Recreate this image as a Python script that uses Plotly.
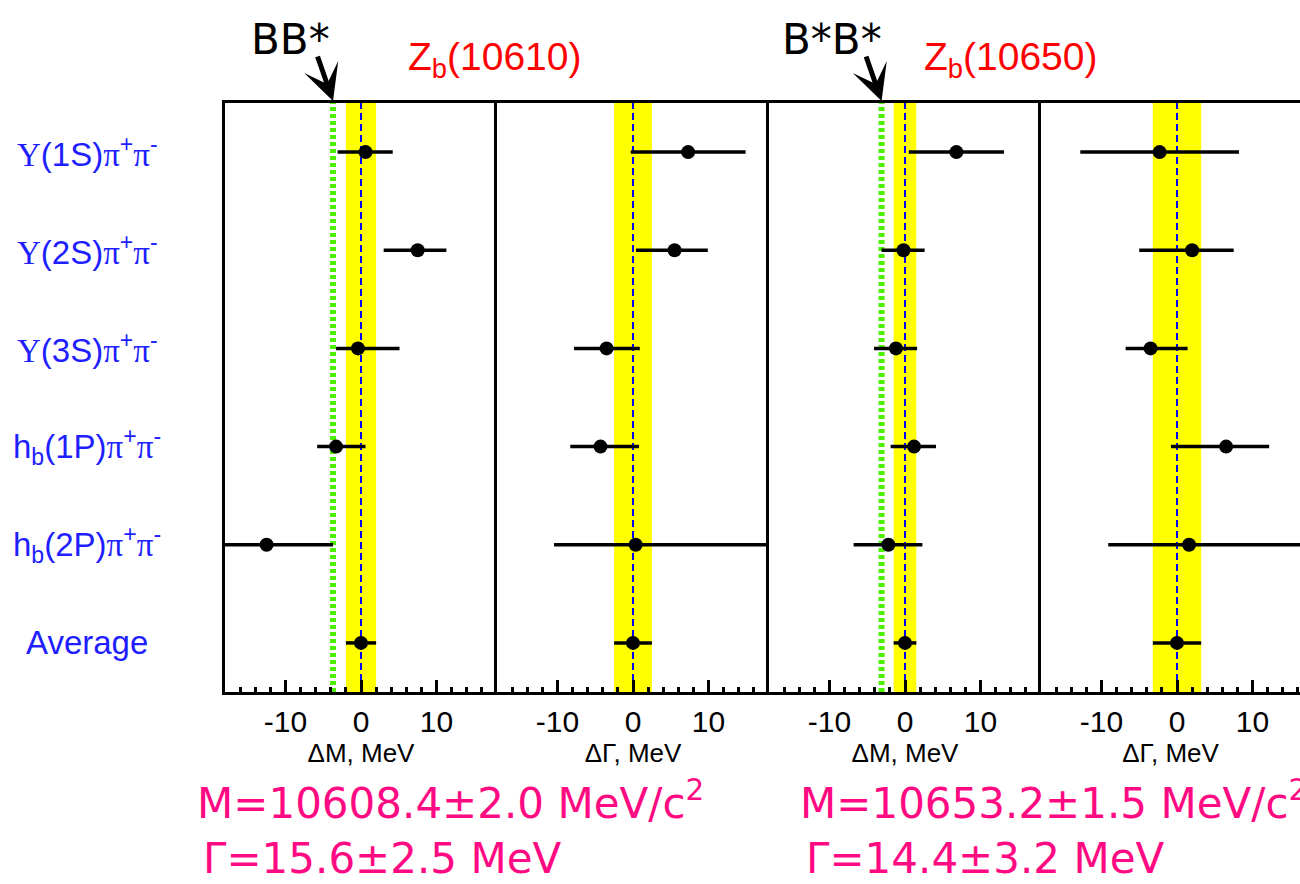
import plotly.graph_objects as go

# Decay channels (rows, top to bottom)
channels = [
    "<span style='font-family:Liberation Serif'>Υ</span>(1S)<span style='font-family:Liberation Serif'>π</span><sup>+</sup><span style='font-family:Liberation Serif'>π</span><sup>-</sup>",
    "<span style='font-family:Liberation Serif'>Υ</span>(2S)<span style='font-family:Liberation Serif'>π</span><sup>+</sup><span style='font-family:Liberation Serif'>π</span><sup>-</sup>",
    "<span style='font-family:Liberation Serif'>Υ</span>(3S)<span style='font-family:Liberation Serif'>π</span><sup>+</sup><span style='font-family:Liberation Serif'>π</span><sup>-</sup>",
    "h<sub>b</sub>(1P)<span style='font-family:Liberation Serif'>π</span><sup>+</sup><span style='font-family:Liberation Serif'>π</span><sup>-</sup>",
    "h<sub>b</sub>(2P)<span style='font-family:Liberation Serif'>π</span><sup>+</sup><span style='font-family:Liberation Serif'>π</span><sup>-</sup>",
    "Average",
]
rows = [0, 1, 2, 3, 4, 5]

# Zb(10610): deviation from the average mass / width, MeV
zb1_dm = [0.6, 7.5, -0.4, -3.3, -12.5, 0.0]
zb1_dm_minus = [3.7, 4.5, 2.9, 2.5, 6.5, 2.0]
zb1_dm_plus = [3.6, 3.8, 5.5, 3.9, 8.8, 2.0]
zb1_dg = [7.3, 5.5, -3.5, -4.3, 0.35, 0.0]
zb1_dg_minus = [7.6, 5.1, 4.3, 4.0, 10.8, 2.5]
zb1_dg_plus = [7.6, 4.4, 4.4, 5.1, 19.0, 2.5]

# Zb(10650)
zb2_dm = [6.8, -0.2, -1.2, 1.2, -2.2, 0.0]
zb2_dm_minus = [6.3, 2.9, 2.9, 3.1, 4.6, 1.5]
zb2_dm_plus = [6.3, 2.8, 2.8, 2.9, 4.5, 1.5]
zb2_dg = [-2.3, 2.0, -3.5, 6.5, 1.6, 0.0]
zb2_dg_minus = [10.5, 7.0, 3.3, 7.3, 10.7, 3.2]
zb2_dg_plus = [10.5, 5.5, 4.9, 5.7, 16.0, 3.2]

# Averages
states = ["10610", "10650"]
avg_mass = [10608.4, 10653.2]
avg_mass_err = [2.0, 1.5]
avg_width = [15.6, 14.4]
avg_width_err = [2.5, 3.2]

# Open-bottom thresholds relative to the average mass, MeV
thresholds = ["BB*", "B*B*"]
threshold_dm = [-3.7, -3.1]

x_ticks = [-10, 0, 10]
x_tick_text = ["-10", "0", "10"]
axis_titles = ["ΔM, MeV", "ΔΓ, MeV", "ΔM, MeV", "ΔΓ, MeV"]

W, H = 1300, 884
panel_px = [(225, 497), (497, 769), (769, 1041), (1041, 1300)]
y_top_px, y_bot_px = 103, 692
x_lo, x_hi = -18.0, 18.0
px_per_unit = (panel_px[0][1] - panel_px[0][0]) / (x_hi - x_lo)

panels = [
    (zb1_dm, zb1_dm_minus, zb1_dm_plus, avg_mass_err[0], threshold_dm[0]),
    (zb1_dg, zb1_dg_minus, zb1_dg_plus, avg_width_err[0], None),
    (zb2_dm, zb2_dm_minus, zb2_dm_plus, avg_mass_err[1], threshold_dm[1]),
    (zb2_dg, zb2_dg_minus, zb2_dg_plus, avg_width_err[1], None),
]

TICK_FONT = "Liberation Sans, Arial, sans-serif"
HAND_FONT = "DejaVu Sans, sans-serif"
PINK = "#ff0a82"
LABEL_BLUE = "#1e1eff"

fig = go.Figure()
layout = {}
shapes = []

for i, (vals, em, ep, band, thr) in enumerate(panels, start=1):
    xs = "" if i == 1 else str(i)
    fig.add_trace(go.Scatter(
        x=vals, y=rows, mode="markers",
        xaxis="x" + xs, yaxis="y" + xs,
        marker=dict(color="black", size=14),
        error_x=dict(type="data", symmetric=False, array=ep, arrayminus=em,
                     color="black", thickness=3.5, width=0),
        showlegend=False, cliponaxis=True,
    ))
    x0p, x1p = panel_px[i - 1]
    right = x_lo + (x1p - x0p) / px_per_unit
    layout["xaxis" + xs] = dict(
        domain=[x0p / W, x1p / W], range=[x_lo, right], anchor="y" + xs,
        showgrid=False, zeroline=False,
        showline=True, linecolor="black", linewidth=3, mirror=True,
        ticks="inside", ticklen=12, tickwidth=2.5, tickcolor="black",
        tickvals=x_ticks, ticktext=x_tick_text,
        tickfont=dict(family=TICK_FONT, size=30, color="black"),
        ticklabelstandoff=1,
        minor=dict(dtick=2, tick0=0, ticks="inside", ticklen=5,
                   tickwidth=2.5, tickcolor="black", showgrid=False),
        title=dict(text=axis_titles[i - 1], standoff=6,
                   font=dict(family=TICK_FONT, size=26, color="black")),
    )
    # only the left edge of each panel carries a frame line, so shared
    # borders between neighbouring panels are drawn once
    layout["yaxis" + xs] = dict(
        domain=[1 - y_bot_px / H, 1 - y_top_px / H], range=[5.5, -0.5],
        anchor="x" + xs, showgrid=False, zeroline=False,
        showticklabels=False, ticks="",
        showline=True, linecolor="black", linewidth=3, mirror=False,
    )
    # average value band
    shapes.append(dict(type="rect", xref="x" + xs, yref="y" + xs + " domain",
                       x0=-band, x1=band, y0=0, y1=1, layer="below",
                       fillcolor="#ffff00", line=dict(width=0)))
    # threshold line
    if thr is not None:
        shapes.append(dict(type="line", xref="x" + xs, yref="y" + xs + " domain",
                           x0=thr, x1=thr, y0=0, y1=1, layer="below",
                           line=dict(color="#4cf000", width=6, dash="4px,3px")))
    # zero line
    shapes.append(dict(type="line", xref="x" + xs, yref="y" + xs + " domain",
                       x0=0, x1=0, y0=0, y1=1, layer="below",
                       line=dict(color="#0000ff", width=2, dash="7px,4px")))

annotations = []
for r, lab in zip(rows, channels):
    annotations.append(dict(text=lab, xref="paper", yref="y", x=87 / W, y=r,
                            xanchor="center", yanchor="middle", showarrow=False,
                            font=dict(family=TICK_FONT, size=33, color=LABEL_BLUE)))

# threshold markers and state names
thr_label_px = [(290, 40), (832, 40)]
thr_axes = ["x", "x3"]
state_px = [(494, 60), (1010, 60)]
for k in range(2):
    annotations.append(dict(text=thresholds[k], xref="paper", yref="paper",
                            x=thr_label_px[k][0] / W, y=1 - thr_label_px[k][1] / H,
                            xanchor="center", yanchor="middle", showarrow=False,
                            font=dict(family=HAND_FONT, size=42, color="black")))
    annotations.append(dict(text="", xref=thr_axes[k], yref="paper",
                            x=threshold_dm[k], y=1 - (y_top_px - 2) / H,
                            ax=-16, ay=-46, showarrow=True, arrowhead=3,
                            arrowsize=1.2, arrowwidth=5, arrowcolor="black"))
    annotations.append(dict(text="Z<sub>b</sub>(" + states[k] + ")",
                            xref="paper", yref="paper",
                            x=state_px[k][0] / W, y=1 - state_px[k][1] / H,
                            xanchor="center", yanchor="middle", showarrow=False,
                            font=dict(family=TICK_FONT, size=39, color="#ff0000")))

# fitted averages
res_x_px = [195, 798]
for k in range(2):
    annotations.append(dict(
        text=f"M={avg_mass[k]:.1f}±{avg_mass_err[k]:.1f} MeV/c<sup>2</sup>",
        xref="paper", yref="paper", x=res_x_px[k] / W, y=1 - 800 / H,
        xanchor="left", yanchor="middle", showarrow=False,
        font=dict(family=HAND_FONT, size=42, color=PINK)))
    annotations.append(dict(
        text=f"Γ={avg_width[k]:.1f}±{avg_width_err[k]:.1f} MeV",
        xref="paper", yref="paper", x=(res_x_px[k] + 6) / W, y=1 - 858 / H,
        xanchor="left", yanchor="middle", showarrow=False,
        font=dict(family=HAND_FONT, size=42, color=PINK)))

fig.update_layout(
    width=W, height=H, margin=dict(l=0, r=0, t=0, b=0),
    paper_bgcolor="white", plot_bgcolor="white",
    shapes=shapes, annotations=annotations, **layout,
)

fig.write_html("out.html")
